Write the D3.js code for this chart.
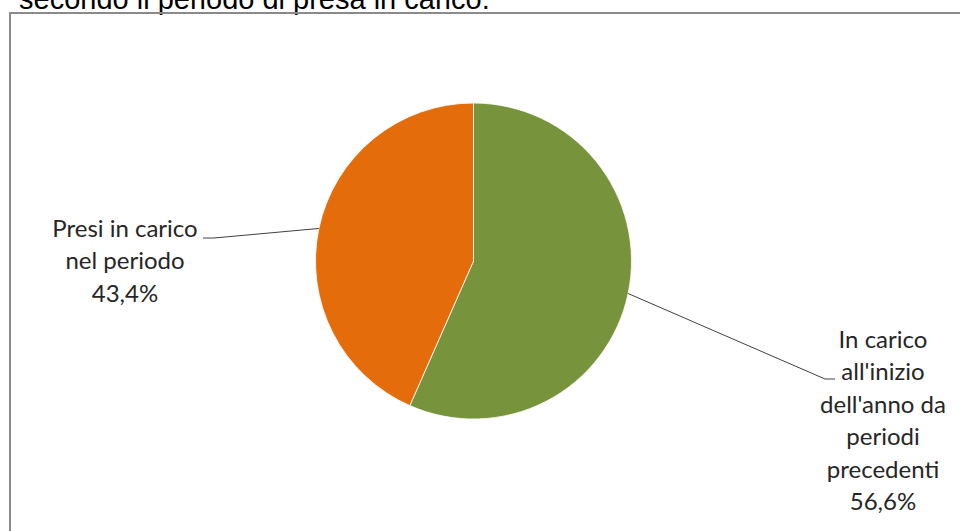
<!DOCTYPE html>
<html>
  <head>
    <meta charset="utf-8">
    <script src="https://cdn.jsdelivr.net/npm/d3@7/dist/d3.min.js"></script>
    <style>
      body { margin: 0; background: white; }
      .title { font-family: "Liberation Sans", Arial, sans-serif; font-size: 29px; fill: #000; }
      .lbl { font-family: Lato, "Noto Sans", sans-serif; font-size: 24px; fill: #262626; }
      .leader { fill: none; stroke: #404040; stroke-width: 1; }
    </style>
  </head>
  <body>
    <div id="chart"></div>
    <script type="text/javascript">
      // data
      var categories = ["In carico all'inizio dell'anno da periodi precedenti", "Presi in carico nel periodo"];
      var values = [56.6, 43.4];
      var labelLines = [
        ["In carico", "all'inizio", "dell'anno da", "periodi", "precedenti", "56,6%"],
        ["Presi in carico", "nel periodo", "43,4%"]
      ];
      var colors = ["#77933C", "#E46C0A"];

      var width = 960, height = 531;
      var svg = d3.select("#chart").append("svg")
          .attr("width", width)
          .attr("height", height);

      // title (clipped at the top, as in the original)
      svg.append("text")
         .attr("class", "title")
         .attr("x", 19)
         .attr("y", 9)
         .text("secondo il periodo di presa in carico.");

      // chart area frame
      svg.append("rect")
         .attr("x", 10).attr("y", 13)
         .attr("width", 980).attr("height", 560)
         .attr("fill", "none")
         .attr("stroke", "#8a8a8a")
         .attr("stroke-width", 2);

      var cx = 473.5, cy = 261, r = 158;
      var g = svg.append("g").attr("transform", "translate(" + cx + "," + cy + ")");

      var pie = d3.pie().sort(null).value(function(d) { return d; });
      var arcs = pie(values);
      var arc = d3.arc().innerRadius(0).outerRadius(r);
      var edge = d3.arc().innerRadius(r).outerRadius(r);

      g.selectAll("path.slice")
        .data(arcs)
        .enter().append("path")
        .attr("class", "slice")
        .attr("d", arc)
        .attr("fill", function(d, i) { return colors[i]; })
        .attr("stroke", "#fff")
        .attr("stroke-width", 0.8);

      // label placement (absolute, like the original data labels)
      var labelPos = [
        { x: 883, y: 348, lx: 825, ex: 835, ly: 379 },
        { x: 125, y: 237, lx: 214, ex: 203, ly: 238 }
      ];

      arcs.forEach(function(a, i) {
        var p = edge.centroid(a);
        var lp = labelPos[i];
        svg.append("polyline")
           .attr("class", "leader")
           .attr("points", [
             [cx + p[0], cy + p[1]],
             [lp.lx, lp.ly],
             [lp.ex, lp.ly]
           ].map(function(q) { return q.join(","); }).join(" "));

        var t = svg.append("text")
           .attr("class", "lbl")
           .attr("text-anchor", "middle");
        labelLines[i].forEach(function(line, k) {
          t.append("tspan")
           .attr("x", lp.x)
           .attr("y", lp.y + k * 32.4)
           .text(line);
        });
      });
    </script>
  </body>
</html>
